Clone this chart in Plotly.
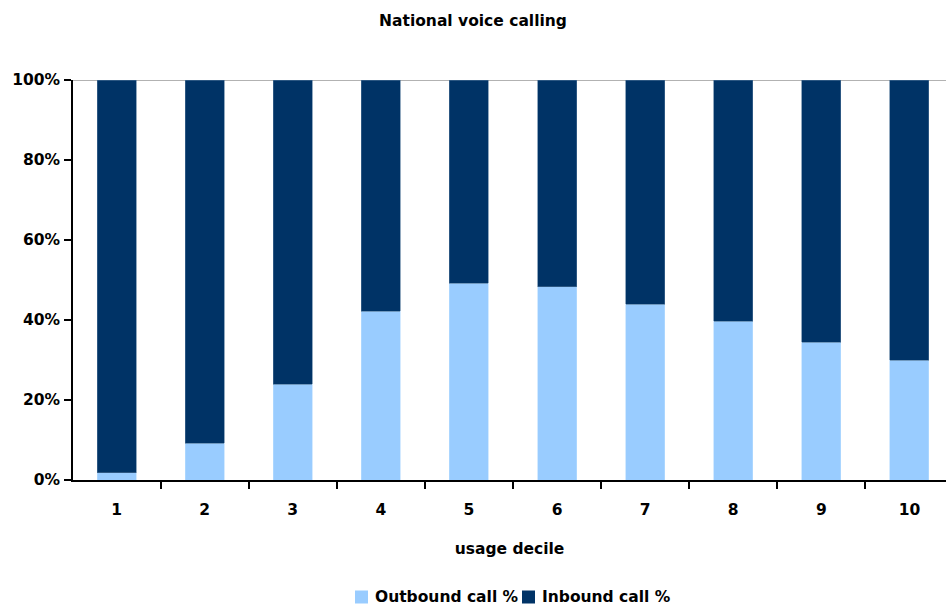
import plotly.graph_objects as go

deciles = ["1", "2", "3", "4", "5", "6", "7", "8", "9", "10"]
outbound = [1.8, 9.2, 24.0, 42.2, 49.2, 48.3, 44.0, 39.7, 34.4, 30.0]
inbound = [round(100 - v, 1) for v in outbound]
series_names = ["Outbound call %", "Inbound call %"]
series_colors = ["#99CCFF", "#003366"]
y_ticks = [0, 20, 40, 60, 80, 100]
y_tick_labels = ["0%", "20%", "40%", "60%", "80%", "100%"]

FAM = "DejaVu Sans, Verdana, sans-serif"
FS = 15.5
font = dict(family=FAM, size=FS, color="#000000")
xs = list(range(len(deciles)))

fig = go.Figure()
fig.add_trace(go.Bar(x=xs, y=outbound, name=series_names[0],
                     marker=dict(color=series_colors[0], line=dict(color="#B8DCFF", width=0.6)),
                     width=0.443))
fig.add_trace(go.Bar(x=xs, y=inbound, name=series_names[1],
                     marker=dict(color=series_colors[1], line=dict(color="#4A6F94", width=0.6)),
                     width=0.443))

fig.update_layout(
    barmode="stack",
    width=946, height=605,
    margin=dict(l=73, r=0, t=80, b=125),
    paper_bgcolor="white", plot_bgcolor="white",
    font=font,
    title=dict(text="<b>National voice calling</b>", x=0.5, xanchor="center",
               y=1 - 21 / 605, yanchor="middle", font=dict(size=FS)),
    showlegend=False,
)
fig.update_xaxes(
    automargin=False,
    range=[-0.494, 9.415],
    tickmode="array", tickvals=xs,
    ticktext=["<b>%s</b>" % d for d in deciles],
    ticks="", showline=True, linecolor="#000000", linewidth=1.5,
    showgrid=False, zeroline=False,
    title=dict(text="<b>usage decile</b>", font=dict(size=FS), standoff=25),
    ticklabelstandoff=15,
    minor=dict(tickmode="array", tickvals=[i - 0.5 for i in range(len(deciles) + 1)],
               ticks="outside", ticklen=7, tickcolor="#000000", tickwidth=1.5),
)
fig.update_yaxes(
    automargin=False,
    range=[0, 100],
    tickmode="array", tickvals=y_ticks,
    ticktext=["<b>%s</b>" % t for t in y_tick_labels],
    ticks="outside", ticklen=7, tickcolor="#000000", tickwidth=1.5,
    showline=True, linecolor="#000000", linewidth=1.5,
    showgrid=False, zeroline=False,
    ticklabelstandoff=1,
)
fig.add_shape(type="line", xref="paper", yref="y", x0=0, x1=1, y0=100, y1=100,
              line=dict(color="#999999", width=1.5), layer="below")

# legend drawn as swatches + text (compact, Excel-style)
legend_y = 1 - (597 - 80) / 400.0  # paper-relative to plot area
sw_x = [355, 522]
txt_x = [373, 540]
for name, color, sx, tx in zip(series_names, series_colors, sw_x, txt_x):
    fig.add_shape(type="rect", xref="paper", yref="paper",
                  x0=(sx - 73) / 873.0, x1=(sx + 13 - 73) / 873.0,
                  y0=legend_y - 6.5 / 400.0, y1=legend_y + 6.5 / 400.0,
                  fillcolor=color, line=dict(width=0))
    fig.add_annotation(xref="paper", yref="paper", x=(tx - 73) / 873.0, y=legend_y,
                       xanchor="left", yanchor="middle", showarrow=False,
                       text="<b>%s</b>" % name, font=dict(size=FS))

fig.write_html("out.html", config={"displayModeBar": False},
               post_script="document.body.style.margin='0';document.body.style.overflow='hidden';")
